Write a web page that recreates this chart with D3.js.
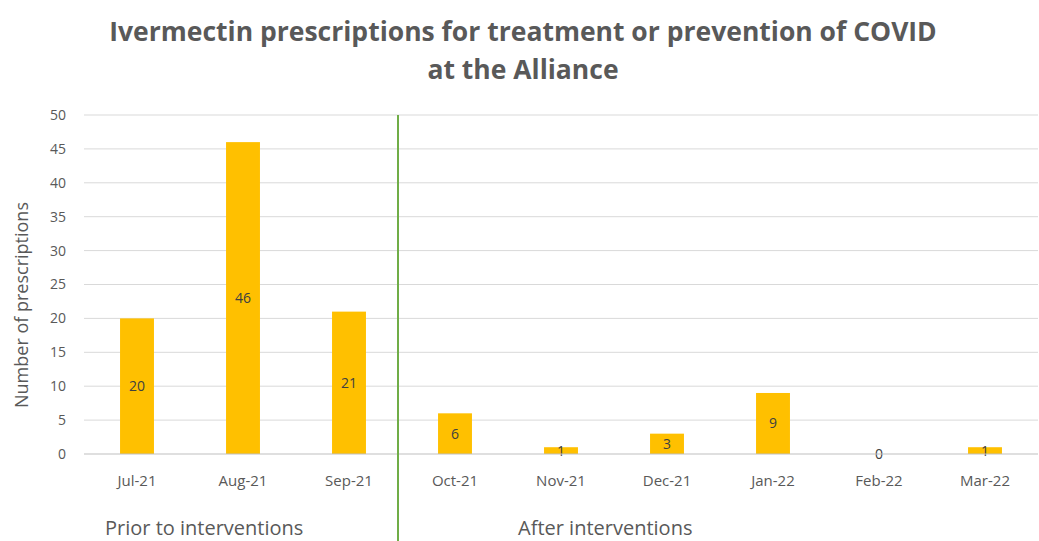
<!DOCTYPE html>
<html>
<head>
<meta charset="utf-8">
<script src="https://cdn.jsdelivr.net/npm/d3@7"></script>
<style>
  body { margin: 0; background: #fff; }
  text { font-family: "Open Sans", "Liberation Sans", sans-serif; fill: #595959; }
</style>
</head>
<body>
<svg class="js-chart" width="1039" height="541"></svg>
<script>
var months = ['Jul-21', 'Aug-21', 'Sep-21', 'Oct-21', 'Nov-21', 'Dec-21', 'Jan-22', 'Feb-22', 'Mar-22'],
    counts = [20, 46, 21, 6, 1, 3, 9, 0, 1],
    yTicks = [0, 5, 10, 15, 20, 25, 30, 35, 40, 45, 50],
    periods = ['Prior to interventions', 'After interventions'];

var svg = d3.select('.js-chart'),
    plotLeft = 84, plotRight = 1038, plotTop = 115, plotBottom = 454;

var x = d3.scaleBand().domain(months).range([plotLeft, plotRight]).paddingInner(0.68).paddingOuter(0.34);
var y = d3.scaleLinear().domain([0, 50]).range([plotBottom, plotTop]);

// title
svg.append('text').attr('x', 523).attr('y', 41).attr('text-anchor', 'middle')
    .style('font-size', '26.5px').style('font-weight', 'bold')
    .text('Ivermectin prescriptions for treatment or prevention of COVID');
svg.append('text').attr('x', 523).attr('y', 79).attr('text-anchor', 'middle')
    .style('font-size', '26.5px').style('font-weight', 'bold')
    .text('at the Alliance');

// gridlines
svg.append('g').selectAll('line')
    .data(yTicks.slice(1))
    .enter().append('line')
    .attr('x1', plotLeft).attr('x2', plotRight)
    .attr('y1', function(d) { return y(d); }).attr('y2', function(d) { return y(d); })
    .attr('stroke', '#d9d9d9').attr('stroke-width', 1);

// y axis labels
svg.append('g').selectAll('text')
    .data(yTicks)
    .enter().append('text')
    .attr('x', 66).attr('y', function(d) { return y(d); })
    .attr('dy', '0.35em').attr('text-anchor', 'end')
    .style('font-size', '14px')
    .text(function(d) { return d; });

svg.append('text')
    .attr('transform', 'translate(22,305) rotate(-90)')
    .attr('text-anchor', 'middle').attr('dy', '0.35em').style('font-size', '18px')
    .text('Number of prescriptions');

// bars
var bar = svg.append('g').selectAll('g')
    .data(months)
    .enter().append('g');
bar.append('rect')
    .attr('x', function(d) { return x(d); })
    .attr('width', x.bandwidth())
    .attr('y', function(d, i) { return y(counts[i]); })
    .attr('height', function(d, i) { return plotBottom - y(counts[i]); })
    .attr('fill', '#ffc000');

// baseline
svg.append('line').attr('x1', plotLeft).attr('x2', plotRight).attr('y1', plotBottom).attr('y2', plotBottom)
    .attr('stroke', '#bfbfbf').attr('stroke-width', 1);

// value labels
bar.append('text')
    .attr('x', function(d) { return x(d) + x.bandwidth() / 2; })
    .attr('y', function(d, i) { return (y(counts[i]) + plotBottom) / 2; })
    .attr('dy', '0.35em').attr('text-anchor', 'middle')
    .style('font-size', '14px').style('fill', '#404040')
    .text(function(d, i) { return counts[i]; });

// x labels
svg.append('g').selectAll('text')
    .data(months)
    .enter().append('text')
    .attr('x', function(d) { return x(d) + x.bandwidth() / 2; })
    .attr('y', 486).attr('text-anchor', 'middle')
    .style('font-size', '15px')
    .text(function(d) { return d; });

// divider between periods
var split = (x(months[2]) + x(months[3]) + x.bandwidth()) / 2 - 4;
svg.append('line').attr('x1', split).attr('x2', split).attr('y1', plotTop).attr('y2', 541)
    .attr('stroke', '#70ad47').attr('stroke-width', 2);

svg.append('text').attr('x', 105).attr('y', 535).style('font-size', '20px').text(periods[0]);
svg.append('text').attr('x', 518).attr('y', 535).style('font-size', '20px').text(periods[1]);
</script>
</body>
</html>
